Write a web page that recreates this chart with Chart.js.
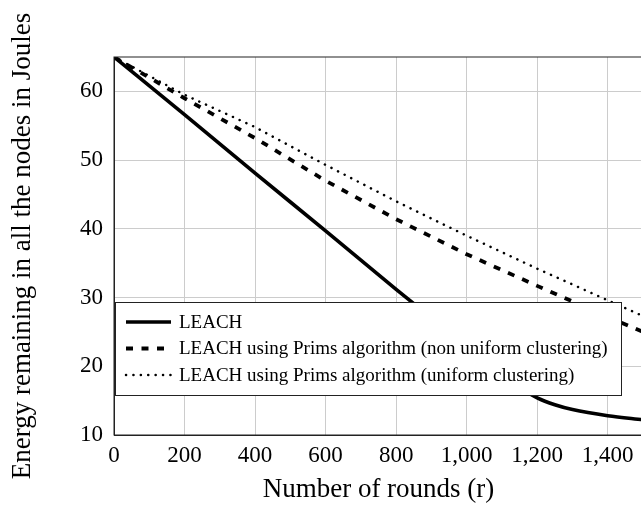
<!DOCTYPE html>
<html>
<head>
<meta charset="utf-8">
<script src="https://cdn.jsdelivr.net/npm/chart.js@4"></script>
<style>
  html, body { margin: 0; padding: 0; overflow: hidden; background: #fff; }
  #wrap { width: 645px; height: 514px; }
</style>
</head>
<body>
<div id="wrap"><canvas id="myChart"></canvas></div>
<script>
// values
const leachRounds = [0, 200, 400, 600, 800, 1000, 1100, 1150, 1200, 1250, 1300, 1400, 1500];
const leachEnergy = [65, 56.6, 48.1, 39.7, 31.2, 22.9, 18.8, 16.9, 15.4, 14.4, 13.7, 12.8, 12.2];
const primsRounds = [0, 200, 400, 600, 800, 1000, 1200, 1400, 1500];
const nonUniformEnergy = [65, 59, 53.2, 47, 41.4, 36.3, 31.7, 27.2, 25.0];
const uniformEnergy = [65, 59.5, 54.8, 49.3, 44.0, 39.0, 34.2, 29.6, 27.3];
const yTicks = [10, 20, 30, 40, 50, 60];
const xTicks = [0, 200, 400, 600, 800, 1000, 1200, 1400];
const seriesNames = ['LEACH',
  'LEACH using Prims algorithm (non uniform clustering)',
  'LEACH using Prims algorithm (uniform clustering)'];

const pts = (xs, ys) => xs.map((x, i) => ({ x: x, y: ys[i] }));

// box round the plot + legend inside it
const framePlugin = {
  id: 'frame',
  afterDatasetsDraw(chart) {
    const c = chart.ctx, a = chart.chartArea;
    c.save();
    c.strokeStyle = '#222';
    c.lineWidth = 1;
    c.strokeRect(a.left, a.top, a.right - a.left, a.bottom - a.top);

    const bx = a.left + 1, by = a.bottom - 133, bw = 506, bh = 93;
    c.fillStyle = '#fff';
    c.fillRect(bx, by, bw, bh);
    c.strokeStyle = '#222';
    c.strokeRect(bx + 0.5, by + 0.5, bw, bh);

    c.font = '19px "Liberation Serif", serif';
    c.textBaseline = 'middle';
    chart.data.datasets.forEach((ds, i) => {
      const y = by + 20 + i * 26.5;
      c.beginPath();
      c.strokeStyle = '#000';
      c.lineWidth = ds.borderWidth;
      c.lineCap = ds.borderCapStyle || 'butt';
      c.setLineDash(ds.borderDash || []);
      c.moveTo(bx + 11, y);
      c.lineTo(bx + 56, y);
      c.stroke();
      c.setLineDash([]);
      c.fillStyle = '#000';
      c.fillText(ds.label, bx + 64, y + 1);
    });
    c.restore();
  }
};

const ctx = document.getElementById('myChart').getContext('2d');
const myChart = new Chart(ctx, {
  type: 'line',
  data: {
    datasets: [{
      label: seriesNames[0],
      data: pts(leachRounds, leachEnergy),
      borderColor: '#000',
      borderWidth: 3.6,
      cubicInterpolationMode: 'monotone',
      pointRadius: 0
    }, {
      label: seriesNames[1],
      data: pts(primsRounds, nonUniformEnergy),
      borderColor: '#000',
      borderWidth: 3.8,
      borderDash: [7, 8.5],
      pointRadius: 0
    }, {
      label: seriesNames[2],
      data: pts(primsRounds, uniformEnergy),
      borderColor: '#000',
      borderWidth: 2.5,
      borderDash: [0.1, 7.3],
      borderCapStyle: 'round',
      pointRadius: 0
    }]
  },
  options: {
    responsive: true,
    maintainAspectRatio: false,
    animation: false,
    layout: { padding: { top: 57, right: 2, left: 0, bottom: 0 } },
    plugins: { legend: { display: false }, tooltip: { enabled: false } },
    scales: {
      x: {
        type: 'linear',
        min: 0,
        max: 1500,
        afterBuildTicks: s => { s.ticks = xTicks.map(v => ({ value: v })); },
        afterFit: s => { s.height = 79; },
        grid: { color: '#cccccc', drawTicks: false },
        border: { color: '#222' },
        ticks: {
          padding: 7,
          color: '#000',
          font: { family: '"Liberation Serif", serif', size: 23 },
          callback: v => v.toLocaleString('en-US')
        },
        title: {
          display: true,
          text: 'Number of rounds (r)',
          color: '#000',
          font: { family: '"Liberation Serif", serif', size: 27 },
          padding: { top: 0, bottom: 8 }
        }
      },
      y: {
        min: 10,
        max: 65,
        afterBuildTicks: s => { s.ticks = yTicks.map(v => ({ value: v })); },
        afterFit: s => { s.width = 114; },
        grid: { color: '#cccccc', drawTicks: false },
        border: { color: '#222' },
        ticks: {
          padding: 11,
          color: '#000',
          font: { family: '"Liberation Serif", serif', size: 23 }
        },
        title: {
          display: true,
          text: 'Energy remaining in all the nodes in Joules',
          color: '#000',
          font: { family: '"Liberation Serif", serif', size: 27 },
          padding: { top: 7, bottom: 0 }
        }
      }
    }
  },
  plugins: [framePlugin]
});
</script>
</body>
</html>
